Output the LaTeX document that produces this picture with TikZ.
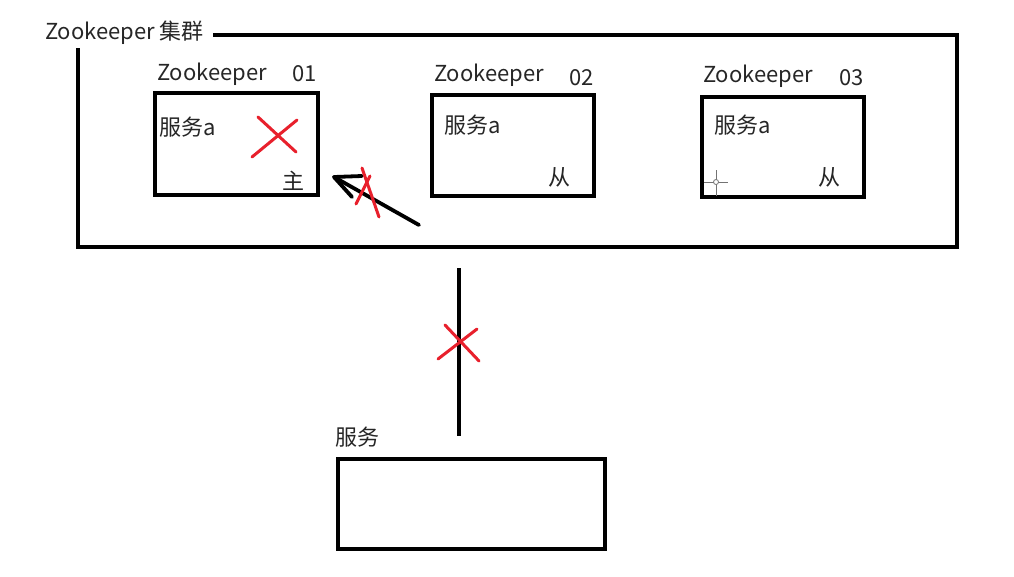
\documentclass[tikz,border=0pt]{standalone}
\usepackage{fontspec}
\setmainfont{Noto Sans CJK SC}
\definecolor{xred}{RGB}{232,32,44}
\begin{document}
\begin{tikzpicture}[x=1pt,y=-1pt,
  lbl/.style={inner sep=0pt,anchor=west,font=\fontsize{22}{24}\selectfont,text=black!85},
  zkbox/.style={draw=black,line width=3.5pt,inner sep=0pt},
  redx/.style={draw=xred,line width=3pt,line cap=round},
  line/.style={draw=black,line width=3.2pt}]
\useasboundingbox[fill=white] (0,0) rectangle (1014,576);
% cluster
\node[lbl] (clusterlbl) at (45,33) {Zookeeper 集群};
\coordinate (c1) at (213,35);
\coordinate (c2) at (957,35);
\coordinate (c3) at (957,247);
\coordinate (c4) at (78,247);
\coordinate (c5) at (78,48);
\draw[line] (c1) -- (c2) -- (c3) -- (c4) -- (c5);
% box 01
\node[zkbox,minimum width=163pt,minimum height=102pt,anchor=north west] (zk1) at (153,91) {};
\node[lbl] (zk1t) at (157,74) {Zookeeper};
\node[lbl] (zk1n) at (292,74) {01};
\node[lbl] (zk1s) at (159,127) {服务a};
\node[lbl] (zk1r) at (282,181) {主};
\draw[redx] (252,157) -- (297,120);
\draw[redx] (258,117) -- (296,152);
% box 02
\node[zkbox,minimum width=162pt,minimum height=101pt,anchor=north west] (zk2) at (430,93) {};
\node[lbl] (zk2t) at (434,75) {Zookeeper};
\node[lbl] (zk2n) at (569,78) {02};
\node[lbl] (zk2s) at (444,125) {服务a};
\node[lbl] (zk2r) at (548,177) {从};
% box 03
\node[zkbox,minimum width=162pt,minimum height=100pt,anchor=north west] (zk3) at (700,95) {};
\node[lbl] (zk3t) at (703,76) {Zookeeper};
\node[lbl] (zk3n) at (839,78) {03};
\node[lbl] (zk3s) at (714,125) {服务a};
\node[lbl] (zk3r) at (818,177) {从};
% cursor
\draw[black!55,line width=1pt] (704,182) -- (728,182) (716,170) -- (716,196);
\draw[black!55,fill=white,line width=0.8pt] (716,182) circle (2.5pt);
% arrow
\coordinate (at) at (334,177);
\coordinate (as) at (419,225);
\draw[black,line width=3.8pt,line cap=round] (as) -- (at);
\draw[black,line width=3.8pt,line cap=round,line join=round] (362,176) -- (at) -- (352,197);
\draw[redx] (362,168) -- (379,217);
\draw[redx] (356,204) -- (370,176);
% service
\node[lbl] (svclbl) at (335,437) {服务};
\node[zkbox,minimum width=267pt,minimum height=90pt,anchor=north west] (svc) at (336,457) {};
\coordinate (v1) at (459,268);
\coordinate (v2) at (459,436);
\draw[line] (v1) -- (v2);
\draw[redx] (445,325) -- (479,361);
\draw[redx] (438,359) -- (477,329);
\end{tikzpicture}
\end{document}
